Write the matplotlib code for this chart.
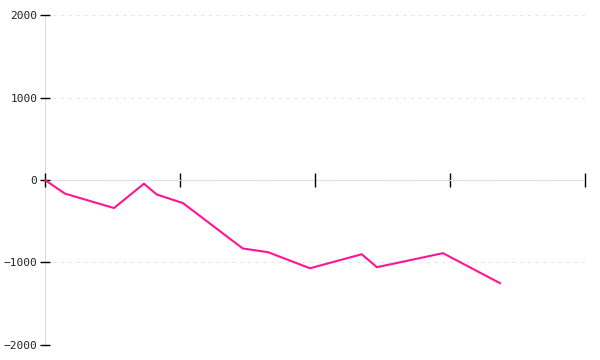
import matplotlib
matplotlib.use("Agg")
import matplotlib.pyplot as plt

# values
x_vals = [0, 0.148, 0.511, 0.733, 0.827, 1.022, 1.465, 1.652, 1.963, 2.346, 2.459, 2.948, 3.370]
y_vals = [0, -165, -340, -45, -175, -280, -830, -875, -1070, -900, -1057, -887, -1250]
y_ticks = [-2000, -1000, 0, 1000, 2000]
x_ticks = [0, 1, 2, 3, 4]

fig = plt.figure(figsize=(6, 3.6), dpi=100)
ax = fig.add_axes([0.075, 0.0417, 0.9, 0.9166])

ax.plot(x_vals, y_vals, color="#ff1493", lw=1.5, zorder=3)

ax.set_xlim(0, 4)
ax.set_ylim(-2000, 2000)
ax.set_yticks(y_ticks)
ax.set_xticks(x_ticks)
ax.set_xticklabels([])
ax.set_yticklabels([str(v).replace("-", "\u2212") for v in y_ticks],
                   fontfamily="DejaVu Sans Mono", fontsize=8, color="#222222")

ax.grid(axis="y", color="#e6e6e6", linestyle=(0, (3, 4)), lw=0.8)
ax.set_axisbelow(True)

for s in ["top", "right"]:
    ax.spines[s].set_visible(False)
ax.spines["left"].set_color("#dddddd")
ax.spines["bottom"].set_color("#dddddd")
ax.spines["left"].set_zorder(0.5)
ax.spines["bottom"].set_zorder(0.5)
ax.spines["bottom"].set_position(("data", 0))

ax.tick_params(axis="y", direction="inout", length=7, width=1, color="black", pad=2)
ax.tick_params(axis="x", direction="inout", length=10, width=1, color="black")

fig.savefig("out.png", dpi=100)
